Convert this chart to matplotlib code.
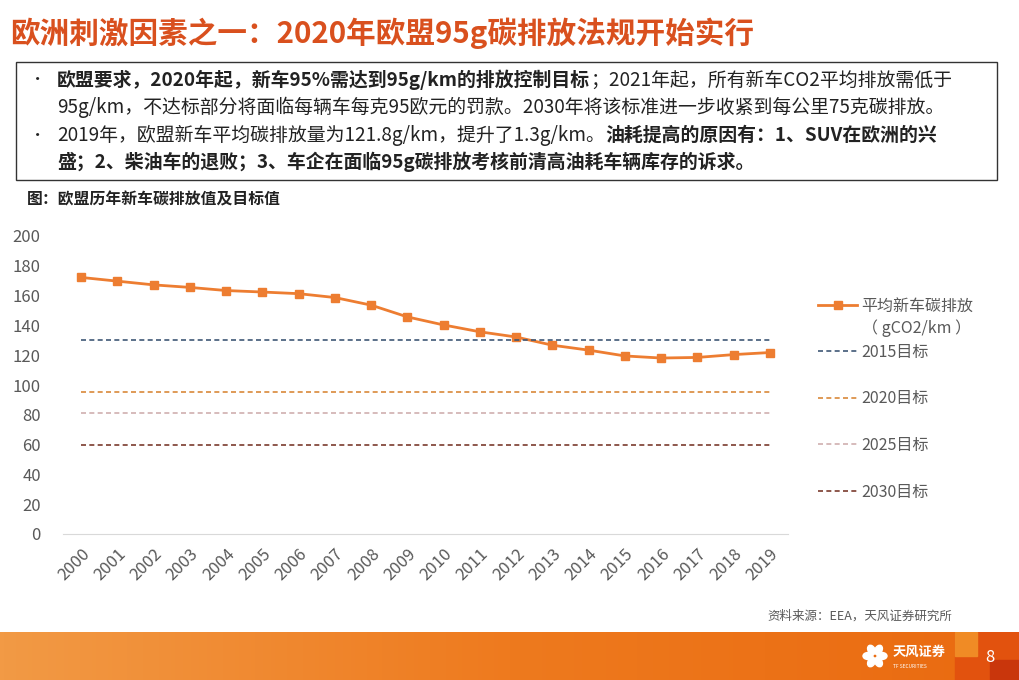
import numpy as np
import matplotlib
matplotlib.use('Agg')
import matplotlib.pyplot as plt
from matplotlib.patches import Rectangle, Ellipse
from matplotlib.colors import LinearSegmentedColormap

plt.rcParams['font.family'] = ['Noto Sans CJK SC', 'DejaVu Sans']

years = [str(y) for y in range(2000, 2020)]
emission = [172.2, 169.7, 167.2, 165.5, 163.4, 162.4, 161.3, 158.7, 153.6, 145.7,
            140.3, 135.7, 132.2, 126.7, 123.4, 119.5, 118.1, 118.5, 120.4, 121.8]
target_names = ['2015目标', '2020目标', '2025目标', '2030目标']
target_values = [130, 95, 81, 59.4]
target_colors = ['#3E5775', '#D9893A', '#CFAFAF', '#7A3B2E']

W, H = 1020, 680
fig = plt.figure(figsize=(10.2, 6.8), dpi=100)
fig.patch.set_facecolor('white')

# title
fig.text(10 / W, 1 - 33 / H, '欧洲刺激因素之一：2020年欧盟95g碳排放法规开始实行',
         fontsize=21.3, fontweight='bold', color='#D9501E', va='center', ha='left')

# text box
fig.patches.append(Rectangle((16 / W, 1 - 180 / H), 981 / W, 118 / H,
                             transform=fig.transFigure, fill=False,
                             edgecolor='#333333', linewidth=1))

lines = [
    [('欧盟要求，2020年起，新车95%需达到95g/km的排放控制目标', 'bold'),
     ('；2021年起，所有新车CO2平均排放需低于', 'normal')],
    [('95g/km，不达标部分将面临每辆车每克95欧元的罚款。2030年将该标准进一步收紧到每公里75克碳排放。', 'normal')],
    [('2019年，欧盟新车平均碳排放量为121.8g/km，提升了1.3g/km。', 'normal'),
     ('油耗提高的原因有：1、SUV在欧洲的兴', 'bold')],
    [('盛；2、柴油车的退败；3、车企在面临95g碳排放考核前清高油耗车辆库存的诉求。', 'bold')],
]
line_y = [80, 107, 135, 162]
bullets = [0, 2]

renderer = fig.canvas.get_renderer()
for i, (segs, ly) in enumerate(zip(lines, line_y)):
    if i in bullets:
        fig.text(30 / W, 1 - ly / H, '•', fontsize=11, color='#222222', va='center')
    x = 57
    for txt, wt in segs:
        t = fig.text(x / W, 1 - ly / H, txt, fontsize=13.6, fontweight=wt,
                     color='#222222', va='center', ha='left')
        x += t.get_window_extent(renderer).width

# chart caption
fig.text(27 / W, 1 - 199 / H, '图：欧盟历年新车碳排放值及目标值', fontsize=11.4,
         fontweight='bold', color='#222222', va='center')

# chart
ax = fig.add_axes([63 / W, 1 - 534 / H, (788 - 63) / W, (534 - 236) / H])
x = np.arange(len(years))
ax.plot(x, emission, color='#ED7D31', linewidth=2, marker='s', markersize=6,
        label='平均新车碳排放')
for name, val, col in zip(target_names, target_values, target_colors):
    ax.plot(x, [val] * len(x), color=col, linestyle=(0, (3, 2)), linewidth=1.2, label=name)

ax.set_xlim(-0.5, len(years) - 0.5)
ax.set_ylim(0, 200)
ax.set_yticks(range(0, 201, 20))
ax.set_xticks(x)
ax.set_xticklabels(years, rotation=45, ha='right', rotation_mode='anchor')
ax.tick_params(axis='both', length=0, labelsize=12, labelcolor='#595959')
ax.tick_params(axis='y', pad=16)
ax.tick_params(axis='x', pad=8)
for s in ['top', 'right', 'left']:
    ax.spines[s].set_visible(False)
ax.spines['bottom'].set_color('#D9D9D9')

leg = ax.legend(loc='upper left', bbox_to_anchor=(804 / W, 1 - 283 / H),
                bbox_transform=fig.transFigure, frameon=False, fontsize=11.5,
                labelspacing=1.85, handlelength=2.4, handletextpad=0.3)
for t in leg.get_texts():
    t.set_color('#595959')
# unit line under the first legend entry
fig.text(862 / W, 1 - 328 / H, '（ gCO2/km ）', fontsize=11.5, color='#595959',
         va='center', ha='left')

# source
fig.text(952 / W, 1 - 616 / H, '资料来源：EEA，天风证券研究所', fontsize=9,
         color='#595959', ha='right', va='center')

# footer band
fax = fig.add_axes([0, 0, 1, 48 / H])
grad = np.linspace(0, 1, 256).reshape(1, -1)
cmap = LinearSegmentedColormap.from_list('band', ['#F29A45', '#EE7A1E', '#EA6A10'])
fax.imshow(grad, aspect='auto', cmap=cmap, extent=(0, W, 0, 48))
fax.add_patch(Rectangle((955, 0), 65, 48, color='#E2520E'))
fax.add_patch(Rectangle((955, 24), 22, 24, color='#F08B25'))
fax.add_patch(Rectangle((990, 0), 30, 20, color='#C9360C'))
fax.set_xlim(0, W)
fax.set_ylim(0, 48)
fax.axis('off')
fax.text(893, 28, '天风证券', color='white', fontsize=9.5, fontweight='bold', va='center', ha='left')
fax.text(893, 14, 'TF SECURITIES', color='white', fontsize=3.5, va='center', ha='left')
for ang in np.linspace(0, 2 * np.pi, 6, endpoint=False):
    fax.add_patch(Ellipse((875 + 7 * np.cos(ang), 24 + 7 * np.sin(ang)),
                          7, 10, angle=np.degrees(ang) + 90, color='white'))
fax.text(990, 22, '8', color='white', fontsize=12, va='center', ha='center')

fig.savefig('out.png', dpi=100)
